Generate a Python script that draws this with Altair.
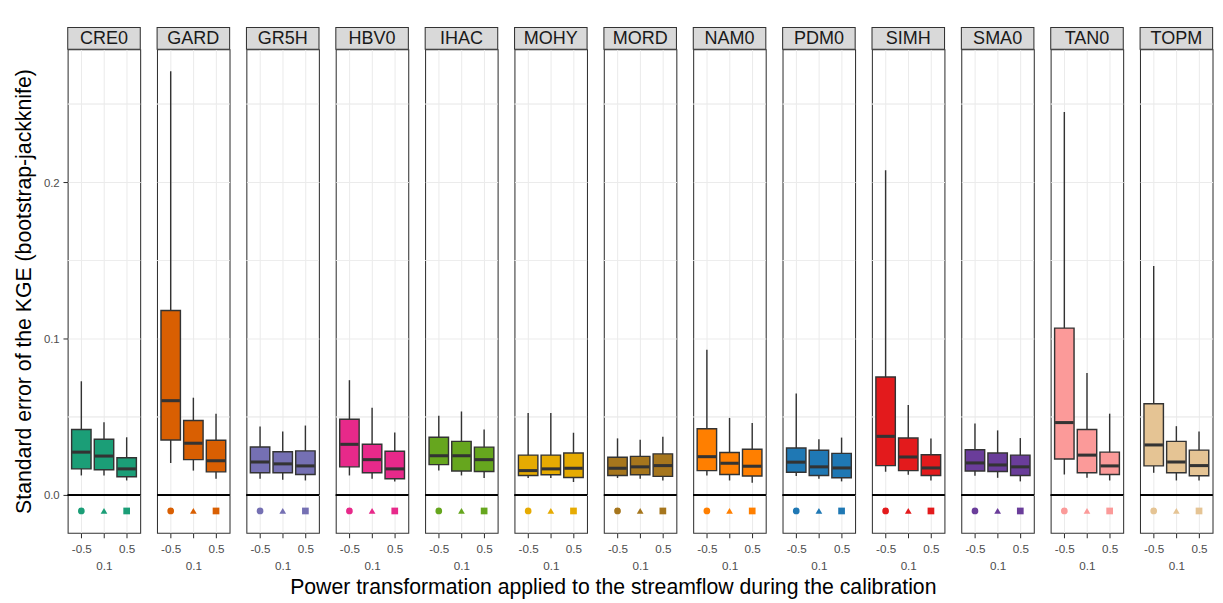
import altair as alt
import pandas as pd

models = ["CRE0", "GARD", "GR5H", "HBV0", "IHAC", "MOHY", "MORD",
          "NAM0", "PDM0", "SIMH", "SMA0", "TAN0", "TOPM"]
colors = ["#1B9E77", "#D95F02", "#7570B3", "#E7298A", "#66A61E", "#E6AB02", "#A6761D",
          "#FF7F00", "#1F78B4", "#E31A1C", "#6A3D9A", "#FB9A99", "#E5C494"]
powers = ["-0.5", "0.1", "0.5"]
shapes = ["circle", "triangle-up", "square"]

# per model: values for powers -0.5, 0.1, 0.5
lower = {
    "CRE0": [0.0126, 0.0126, 0.0094], "GARD": [0.0206, 0.0157, 0.0105],
    "GR5H": [0.0105, 0.0099, 0.0094], "HBV0": [0.0126, 0.0105, 0.0088],
    "IHAC": [0.0157, 0.0126, 0.0110], "MOHY": [0.0110, 0.0110, 0.0084],
    "MORD": [0.0110, 0.0105, 0.0094], "NAM0": [0.0126, 0.0094, 0.0080],
    "PDM0": [0.0122, 0.0105, 0.0088], "SIMH": [0.0149, 0.0130, 0.0094],
    "SMA0": [0.0124, 0.0111, 0.0088], "TAN0": [0.0132, 0.0111, 0.0094],
    "TOPM": [0.0143, 0.0094, 0.0093],
}
q1 = {
    "CRE0": [0.0168, 0.0162, 0.0118], "GARD": [0.0353, 0.0227, 0.0149],
    "GR5H": [0.0143, 0.0143, 0.0132], "HBV0": [0.0181, 0.0143, 0.0105],
    "IHAC": [0.0195, 0.0155, 0.0151], "MOHY": [0.0126, 0.0130, 0.0113],
    "MORD": [0.0126, 0.0130, 0.0120], "NAM0": [0.0157, 0.0132, 0.0122],
    "PDM0": [0.0147, 0.0126, 0.0111], "SIMH": [0.0189, 0.0157, 0.0126],
    "SMA0": [0.0155, 0.0151, 0.0126], "TAN0": [0.0231, 0.0143, 0.0132],
    "TOPM": [0.0187, 0.0143, 0.0124],
}
median = {
    "CRE0": [0.0275, 0.0250, 0.0168], "GARD": [0.0604, 0.0332, 0.0220],
    "GR5H": [0.0212, 0.0200, 0.0187], "HBV0": [0.0325, 0.0227, 0.0168],
    "IHAC": [0.0252, 0.0252, 0.0227], "MOHY": [0.0157, 0.0168, 0.0172],
    "MORD": [0.0172, 0.0181, 0.0189], "NAM0": [0.0246, 0.0204, 0.0185],
    "PDM0": [0.0211, 0.0181, 0.0174], "SIMH": [0.0376, 0.0244, 0.0174],
    "SMA0": [0.0206, 0.0193, 0.0181], "TAN0": [0.0464, 0.0256, 0.0187],
    "TOPM": [0.0321, 0.0212, 0.0189],
}
q3 = {
    "CRE0": [0.0420, 0.0357, 0.0239], "GARD": [0.1180, 0.0477, 0.0351],
    "GR5H": [0.0308, 0.0277, 0.0283], "HBV0": [0.0485, 0.0325, 0.0281],
    "IHAC": [0.0370, 0.0344, 0.0307], "MOHY": [0.0256, 0.0256, 0.0269],
    "MORD": [0.0242, 0.0248, 0.0264], "NAM0": [0.0424, 0.0273, 0.0294],
    "PDM0": [0.0301, 0.0287, 0.0267], "SIMH": [0.0755, 0.0365, 0.0258],
    "SMA0": [0.0290, 0.0269, 0.0256], "TAN0": [0.1068, 0.0420, 0.0275],
    "TOPM": [0.0584, 0.0344, 0.0288],
}
upper = {
    "CRE0": [0.0728, 0.0466, 0.0370], "GARD": [0.2710, 0.0623, 0.0521],
    "GR5H": [0.0439, 0.0407, 0.0445], "HBV0": [0.0735, 0.0558, 0.0401],
    "IHAC": [0.0508, 0.0535, 0.0420], "MOHY": [0.0525, 0.0525, 0.0399],
    "MORD": [0.0363, 0.0355, 0.0374], "NAM0": [0.0930, 0.0494, 0.0462],
    "PDM0": [0.0650, 0.0357, 0.0368], "SIMH": [0.2077, 0.0577, 0.0363],
    "SMA0": [0.0458, 0.0414, 0.0365], "TAN0": [0.2449, 0.0781, 0.0521],
    "TOPM": [0.1465, 0.0441, 0.0407],
}
y_ticks = [0.0, 0.1, 0.2]
minor_grid = [0.05, 0.15, 0.25]
marker_y = -0.0101
x_title = "Power transformation applied to the streamflow during the calibration"
y_title = "Standard error of the KGE (bootstrap-jackknife)"

rows = []
for m in models:
    for i, p in enumerate(powers):
        rows.append(dict(model=m, power=p, low=lower[m][i], q1=q1[m][i],
                         med=median[m][i], q3=q3[m][i], high=upper[m][i]))
df = pd.DataFrame(rows)

W = 76.5
H = 510
STRIP = 23
BOXW = 20.5
DARK = "#333333"
FONT = "Liberation Sans"

yscale = alt.Scale(domain=[-0.0241, 0.285], nice=False, zero=False)
xaxis = alt.Axis(labelExpr="datum.value == '0.1' ? ['', '0.1'] : datum.value",
                 labelAngle=0, labelFontSize=12.3, labelColor="#4D4D4D",
                 labelLineHeight=17.2, labelPadding=6,
                 tickColor=DARK, tickSize=5.2, tickWidth=1.1, domain=False,
                 grid=True, gridColor="#EBEBEB", gridWidth=1.1)
xenc = alt.X("power:N", sort=powers, scale=alt.Scale(type="point", padding=0.6),
             title=None, axis=xaxis)
colenc = alt.Color("model:N", scale=alt.Scale(domain=models, range=colors), legend=None)


def panel(m, first):
    if first:
        yaxis = alt.Axis(values=y_ticks, format=".1f", labelFontSize=12, labelColor="#4D4D4D",
                         labelPadding=4, tickColor=DARK, tickSize=5, tickWidth=1.1,
                         domain=False, grid=True,
                         gridColor="#EBEBEB", gridWidth=1.1, titleFontSize=22.4,
                         titleFontWeight="normal", titleColor="black", titlePadding=9)
        ytitle = y_title
    else:
        yaxis = alt.Axis(values=y_ticks, labels=False, ticks=False, domain=False, grid=True,
                         gridColor="#EBEBEB", gridWidth=1.1)
        ytitle = None
    sub = df[df["model"] == m]
    minor_layers = [
        alt.Chart().mark_rule(color="#EBEBEB", strokeWidth=0.6).encode(
            y=alt.datum(v, scale=yscale))
        for v in minor_grid
    ]
    whisk = alt.Chart().mark_rule(color=DARK, strokeWidth=1.5).encode(
        x=xenc, y=alt.Y("low:Q", scale=yscale, title=ytitle, axis=yaxis), y2="high:Q")
    box = alt.Chart().mark_bar(size=BOXW, stroke=DARK, strokeWidth=1.5, opacity=1).encode(
        x=xenc, y=alt.Y("q1:Q", scale=yscale), y2="q3:Q", color=colenc)
    med = alt.Chart().mark_tick(color=DARK, thickness=3.2, size=BOXW - 1, opacity=1).encode(
        x=xenc, y=alt.Y("med:Q", scale=yscale))
    zero = alt.Chart().mark_rule(color="black", strokeWidth=2).encode(
        y=alt.datum(0, scale=yscale))
    pts = alt.Chart().mark_point(filled=True, size=50, opacity=1).encode(
        x=xenc, y=alt.datum(marker_y, scale=yscale), color=colenc,
        shape=alt.Shape("power:N", scale=alt.Scale(domain=powers, range=shapes), legend=None))
    strip = alt.Chart().mark_rect(fill="#D9D9D9", stroke=DARK, strokeWidth=1.1).encode(
        x=alt.value(0), x2=alt.value(W), y=alt.value(-STRIP), y2=alt.value(0)
    ).transform_filter("datum.power == '-0.5'")
    strip_txt = alt.Chart().mark_text(fontSize=19, fontWeight="normal", color="#1A1A1A",
                                      font=FONT, baseline="middle").encode(
        text="model:N", x=alt.value(W / 2), y=alt.value(-STRIP / 2)
    ).transform_filter("datum.power == '-0.5'")
    return alt.layer(*minor_layers, whisk, box, med, zero, pts, strip, strip_txt,
                     data=sub).properties(width=W, height=H)


chart = alt.hconcat(*[panel(m, i == 0) for i, m in enumerate(models)], spacing=13.25).configure(
    font=FONT).configure_view(stroke=DARK, strokeWidth=1.1).properties(
    title=alt.TitleParams(x_title, orient="bottom", anchor="middle", fontSize=22.4,
                          fontWeight="normal", color="black", offset=5),
    padding={"top": 2, "left": 4, "right": 0, "bottom": 0})

chart.save("out.html", embed_options={"renderer": "svg", "actions": False})
